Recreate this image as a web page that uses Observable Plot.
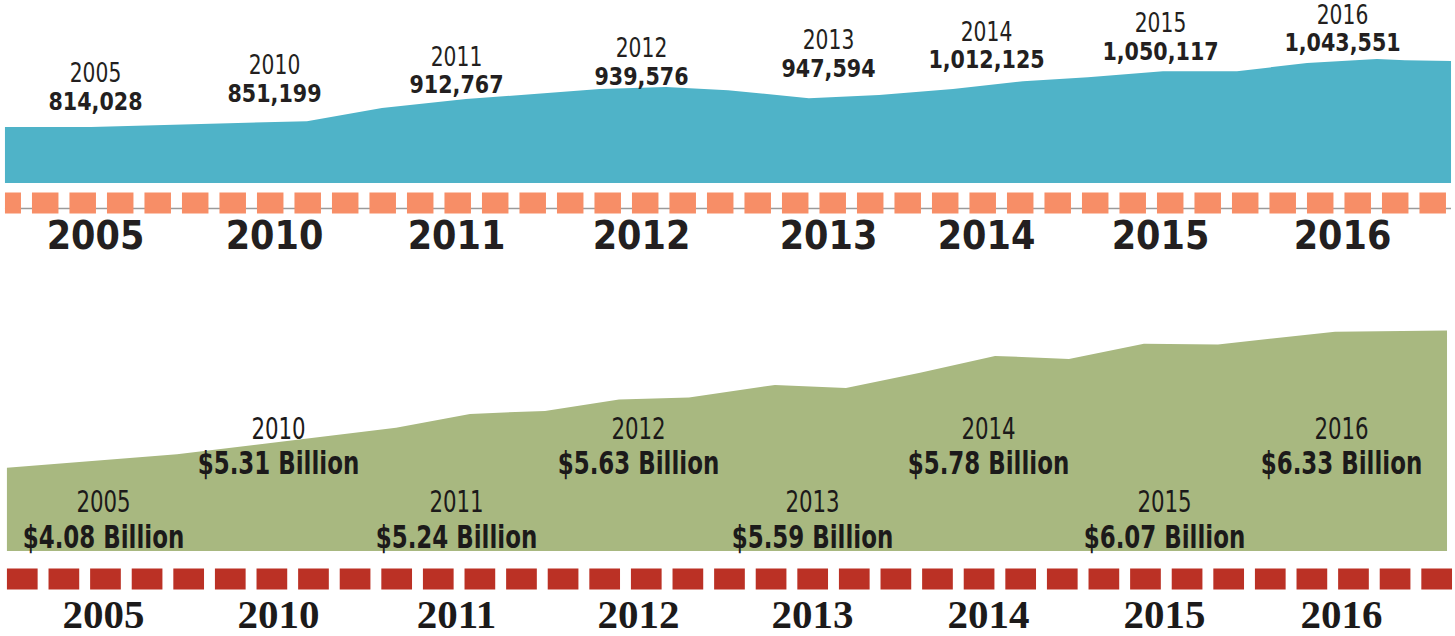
<!DOCTYPE html>
<html>
<head>
<meta charset="utf-8">
<script src="https://cdn.jsdelivr.net/npm/d3@7"></script>
<script src="https://cdn.jsdelivr.net/npm/@observablehq/plot@0.6"></script>
<style>
  html, body { margin: 0; padding: 0; background: #ffffff; }
  #chart svg { display: block; }
</style>
</head>
<body>
<div id="chart"></div>
<script>
// ---- data ----
const years = ["2005", "2010", "2011", "2012", "2013", "2014", "2015", "2016"];
const enrollment = [814028, 851199, 912767, 939576, 947594, 1012125, 1050117, 1043551];
const spendingBillions = [4.08, 5.31, 5.24, 5.63, 5.59, 5.78, 6.07, 6.33];

// decorative outline of the upper (enrollment) band:
// position along the timeline (year-slot units) and level (thousands)
const enrollShapePos = [-0.503, -0.022, 1.181, 1.593, 2.054, 2.778, 3.134, 3.465, 3.898, 4.323, 4.791, 5.213, 5.586, 6.016, 6.423, 6.808, 7.192, 7.346, 7.599];
const enrollShapeK   = [815, 815, 835, 881, 912, 947, 954, 943, 915, 926, 947, 974, 988, 1009, 1009, 1037, 1051, 1047, 1044];

// decorative outline of the lower (spending) band: timeline position and level ($ billions)
const spendShapePos = [-0.549, 0.423, 1.663, 2.077, 2.489, 2.896, 3.293, 3.787, 4.193, 4.614, 5.040, 5.460, 5.886, 6.305, 6.966, 7.599];
const spendShapeB   = [4.08, 4.30, 4.74, 4.97, 5.02, 5.21, 5.24, 5.45, 5.40, 5.65, 5.93, 5.88, 6.13, 6.12, 6.33, 6.35];

// ---- derived tables ----
const enrollShape = enrollShapePos.map((pos, j) => ({pos, k: enrollShapeK[j]}));
const spendShape = spendShapePos.map((pos, j) => ({pos, b: spendShapeB[j]}));

// least-squares trend of the upper band outline; labels float along it
function trend(xs, ys) {
  const mx = d3.mean(xs), my = d3.mean(ys);
  const b = d3.sum(xs, (x, j) => (x - mx) * (ys[j] - my)) / d3.sum(xs, x => (x - mx) ** 2);
  return s => my + b * (s - mx);
}
const enrollTrend = trend(enrollShapePos, enrollShapeK);

const fmt = d3.format(",");
const topLabels = years.map((year, i) => ({
  i, year, value: fmt(enrollment[i]), level: enrollTrend(i)
}));
const botLabels = years.map((year, i) => ({
  i, year, value: `$${spendingBillions[i].toFixed(2)} Billion`
}));
const slots = d3.range(years.length);

const INK = "#231f20";
const INK2 = "#1c1a1a";
const COND = "'DejaVu Sans Condensed', 'DejaVu Sans', sans-serif";
const SERIF = "'Liberation Serif', 'DejaVu Serif', serif";

const enrollBase = 620;
const spendBase = 2.7;

// ---- upper chart ----
const upperChart = Plot.plot({
  width: 1455,
  height: 318,
  marginTop: 45,
  marginBottom: 135,
  marginLeft: 0,
  marginRight: 0,
  style: {background: "transparent", color: INK, fontFamily: COND, overflow: "visible"},
  x: {type: "linear", domain: slots, range: [95, 274, 456, 641, 828, 986, 1160, 1342]},
  y: {type: "linear", domain: [enrollBase, 1100], axis: null},
  marks: [
    Plot.areaY(enrollShape, {x: "pos", y1: () => enrollBase, y2: "k", fill: "#4fb3c8", curve: "linear"}),
    Plot.ruleY([enrollBase], {x1: () => enrollShapePos[0], x2: () => enrollShapePos[enrollShapePos.length - 1],
      dy: 25, stroke: "#9b9b9b", strokeWidth: 1.3}),
    Plot.ruleY([enrollBase], {x1: () => enrollShapePos[0], x2: () => enrollShapePos[enrollShapePos.length - 1],
      dy: 19.5, stroke: "#f78e67", strokeWidth: 21, strokeDasharray: "26.5 11", strokeDashoffset: 10.5}),
    Plot.axisX({ticks: slots, tickFormat: i => years[i], tickSize: 0, tickPadding: 38,
      fontSize: 39, fontWeight: "bold", fontFamily: COND, color: INK}),
    Plot.text(topLabels, {x: "i", y: "level", text: "value", dy: -21.5, lineAnchor: "middle",
      fontSize: 25.5, fontWeight: "bold", fontFamily: COND, fill: INK}),
    Plot.text(topLabels, {x: "i", y: "level", text: "year", dy: -49.5, lineAnchor: "middle",
      fontSize: 26.5, fontFamily: COND, fill: INK})
  ]
});

// ---- lower chart ----
const lowerChart = Plot.plot({
  width: 1455,
  height: 318,
  marginTop: 3.5,
  marginBottom: 85,
  marginLeft: 0,
  marginRight: 0,
  style: {background: "transparent", color: INK, fontFamily: COND, overflow: "visible"},
  x: {type: "linear", domain: slots, range: [103, 278, 456, 638, 812, 988, 1164, 1341]},
  y: {type: "linear", domain: [spendBase, 6.5], axis: null},
  marks: [
    Plot.areaY(spendShape, {x: "pos", y1: () => spendBase, y2: "b", fill: "#a8b880", curve: "linear"}),
    Plot.ruleY([spendBase], {x1: () => spendShapePos[0], x2: () => spendShapePos[spendShapePos.length - 1] + 0.03,
      dy: 27.5, stroke: "#bb3125", strokeWidth: 21, strokeDasharray: "30.7 10.9"}),
    Plot.axisX({ticks: slots, tickFormat: i => years[i], tickSize: 0, tickPadding: 47,
      fontSize: 41, fontWeight: "bold", fontFamily: SERIF, color: INK2}),
    Plot.text(botLabels.filter(d => d.i % 2 === 0), {x: "i", frameAnchor: "bottom", lineAnchor: "middle", text: "value", dy: -14,
      fontSize: 31.5, fontWeight: "bold", fontFamily: COND, fill: INK2}),
    Plot.text(botLabels.filter(d => d.i % 2 === 0), {x: "i", frameAnchor: "bottom", lineAnchor: "middle", text: "year", dy: -49,
      fontSize: 30, fontFamily: COND, fill: INK2}),
    Plot.text(botLabels.filter(d => d.i % 2 === 1), {x: "i", frameAnchor: "bottom", lineAnchor: "middle", text: "value", dy: -88,
      fontSize: 31.5, fontWeight: "bold", fontFamily: COND, fill: INK2}),
    Plot.text(botLabels.filter(d => d.i % 2 === 1), {x: "i", frameAnchor: "bottom", lineAnchor: "middle", text: "year", dy: -122,
      fontSize: 30, fontFamily: COND, fill: INK2})
  ]
});

// narrow the label lettering horizontally (the original uses condensed type)
function squeeze(svg, factors) {
  svg.querySelectorAll('g[aria-label="text"]').forEach(g => {
    const f = factors[parseFloat(g.getAttribute("font-size"))];
    if (!f) return;
    g.querySelectorAll("text").forEach(t => {
      const tr = t.getAttribute("transform");
      if (tr) t.setAttribute("transform", `${tr} scale(${f},1)`);
    });
  });
}
squeeze(upperChart, {25.5: 0.9, 26.5: 0.85});
squeeze(lowerChart, {31.5: 0.81, 30: 0.79});

const host = document.getElementById("chart");
host.appendChild(upperChart);
host.appendChild(lowerChart);
</script>
</body>
</html>
